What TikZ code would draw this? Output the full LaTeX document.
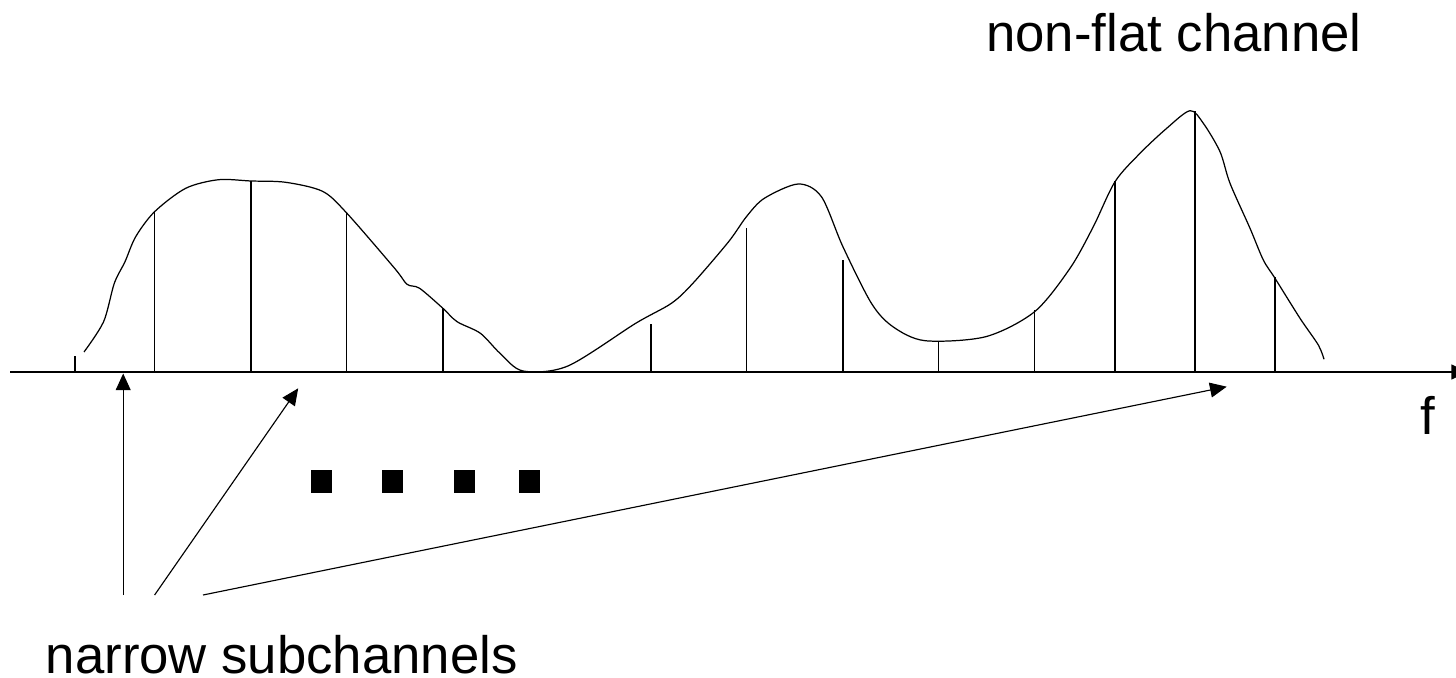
\documentclass[tikz,border=0pt]{standalone}
\usepackage{fontspec}
\setmainfont{Liberation Sans}
\usetikzlibrary{arrows.meta}
\tikzset{>={Triangle[length=9.5pt,width=8.5pt]}}

\begin{document}
\begin{tikzpicture}[x=0.02cm,y=-0.02cm]
      \tikzstyle{label}=[font=\fontsize{30}{36}\selectfont,anchor=base west,inner sep=0pt];
      \tikzstyle{stem}=[line width=0.75pt];
      \useasboundingbox (0,0) rectangle (1456,678);

      \coordinate (o) at (10,372);
      \coordinate (fend) at (1468,372);
      \draw[line width=0.85pt,->] (o)--(fend);
      \node[label] (f) at (1420,435) {f};

      \draw[line width=0.7pt] plot[smooth,tension=0.5] coordinates {
        (84,352) (103.6,321.7) (114.3,283.3) (125,261.7) (135.7,236.7)
        (154.6,211.7) (185.7,188.3) (218.6,179.7) (251,181) (285.7,182.3)
        (322.5,191.3) (346.4,212.7) (394.6,268.3) (407.1,284.3) (419.6,288.3)
        (442.9,308.3) (457.1,321.7) (480.4,333.3) (500,353.3) (523,371)
        (567.9,366) (635.7,323.3) (671.4,303.3) (692.9,283.3) (728.6,241.7)
        (746.4,216.7) (764.3,198.3) (798.2,184) (821.4,196.7) (842.9,246.7)
        (871.4,303.3) (892.9,326.7) (925,340.7) (985.7,336.7) (1034.6,311.7)
        (1070,268.3) (1093.3,226.7) (1115,181.7) (1140,153.3) (1166.7,128.3)
        (1190,110.7) (1203.3,123.3) (1220,151.7) (1230,183.3) (1250,228.3)
        (1263.3,260) (1275,278.3) (1300,318.3) (1318.3,345) (1324,359.3)};

      \foreach \x/\y in {75/356,154.6/211.7,251/181,346.4/212.7,442.9/308.3,
                         651/324.3,746.4/228,842.9/260,938.6/340.7,1034.6/310,
                         1115/181,1195/110.7,1275/277.5}
        \draw[stem] (\x,372)--(\x,\y);

      \foreach \x in {321.4,392.9,464.3,529.6}
        \fill (\x-10.5,470) rectangle ++(21,22.7);

      \node[label] (top) at (986,51.7) {non-flat channel};
      \node[label] (sub) at (45.5,673) {narrow subchannels};

      \coordinate (s1) at (123.2,595);
      \coordinate (s2) at (154.6,595);
      \coordinate (s3) at (203,595);
      \coordinate (t1) at (123.2,373.5);
      \coordinate (t2) at (298.2,388.3);
      \coordinate (t3) at (1226.7,386.7);
      \draw[line width=0.65pt,->] (s1)--(t1);
      \draw[line width=0.65pt,->] (s2)--(t2);
      \draw[line width=0.65pt,->] (s3)--(t3);
\end{tikzpicture}
\end{document}
